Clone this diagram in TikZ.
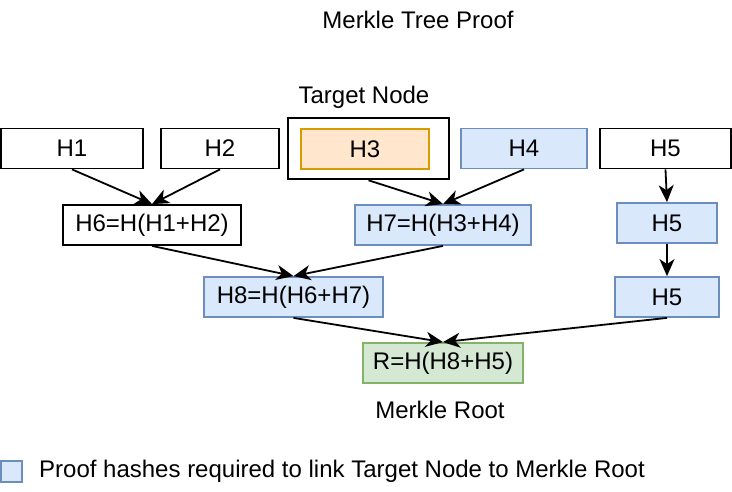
\documentclass[tikz,border=0pt]{standalone}
\usepackage{fontspec}
\setmainfont{Liberation Sans}
\usetikzlibrary{arrows.meta}
\definecolor{blueFill}{HTML}{DAE8FC}
\definecolor{blueLine}{HTML}{6C8EBF}
\definecolor{orangeFill}{HTML}{FFE6CC}
\definecolor{orangeLine}{HTML}{D79B00}
\definecolor{greenFill}{HTML}{D5E8D4}
\definecolor{greenLine}{HTML}{82B366}
\begin{document}
\begin{tikzpicture}[x=1pt,y=-1pt,
    hashbox/.style={draw,line width=1.8pt,minimum height=40pt,inner sep=0pt,font=\fontsize{24}{28}\selectfont},
    proof/.style={hashbox,draw=blueLine,fill=blueFill},
    link/.style={line width=1.8pt,-{Stealth[length=17pt,width=15pt,inset=5pt]}},
    caption/.style={font=\fontsize{24}{28}\selectfont}]
                \useasboundingbox (0,0) rectangle (732,492);
                \node[caption] (title) at (418,20) {Merkle Tree Proof};
                \node[caption] (tgtlabel) at (364,97) {Target Node};
                \node[hashbox,minimum width=142pt] (h1) at (72,148.5) {H1};
                \node[hashbox,minimum width=118pt] (h2) at (220,148.5) {H2};
                \node[draw,line width=2.6pt,minimum width=161pt,minimum height=61pt] (tgt) at (368.5,148.5) {};
                \node[hashbox,draw=orangeLine,fill=orangeFill,minimum width=128pt] (h3) at (365,149) {H3};
                \node[proof,minimum width=126pt] (h4) at (524,148.5) {H4};
                \node[hashbox,minimum width=131pt] (h5) at (665.5,148.5) {H5};
                \node[hashbox,minimum width=178pt] (h6) at (152,225) {H6=H(H1+H2)};
                \node[proof,minimum width=176pt] (h7) at (443,225) {H7=H(H3+H4)};
                \node[proof,minimum width=100pt] (h5b) at (667,223) {H5};
                \node[proof,minimum width=179pt] (h8) at (293.5,297) {H8=H(H6+H7)};
                \node[proof,minimum width=104pt] (h5c) at (667,297) {H5};
                \node[hashbox,draw=greenLine,fill=greenFill,minimum width=160pt] (root) at (443,363) {R=H(H8+H5)};
                \node[caption] (rootlabel) at (440,410) {Merkle Root};
                \node[proof,minimum width=21pt,minimum height=21pt,line width=1.4pt] (key) at (11.5,471.5) {};
                \node[caption,anchor=west,inner sep=0pt] (keytext) at (39,471) {Proof hashes required to link Target Node to Merkle Root};
                \draw[link] (h1.south) -- (h6.north);
                \draw[link] (h2.south) -- (h6.north);
                \draw[link] (tgt.south) -- (h7.north);
                \draw[link] (h4.south) -- (h7.north);
                \draw[link] (h5.south) -- (h5b.north);
                \draw[link] (h5b.south) -- (h5c.north);
                \draw[link] (h6.south) -- (h8.north);
                \draw[link] (h7.south) -- (h8.north);
                \draw[link] (h8.south) -- (root.north);
                \draw[link] (h5c.south) -- (root.north);
            \end{tikzpicture}
\end{document}
